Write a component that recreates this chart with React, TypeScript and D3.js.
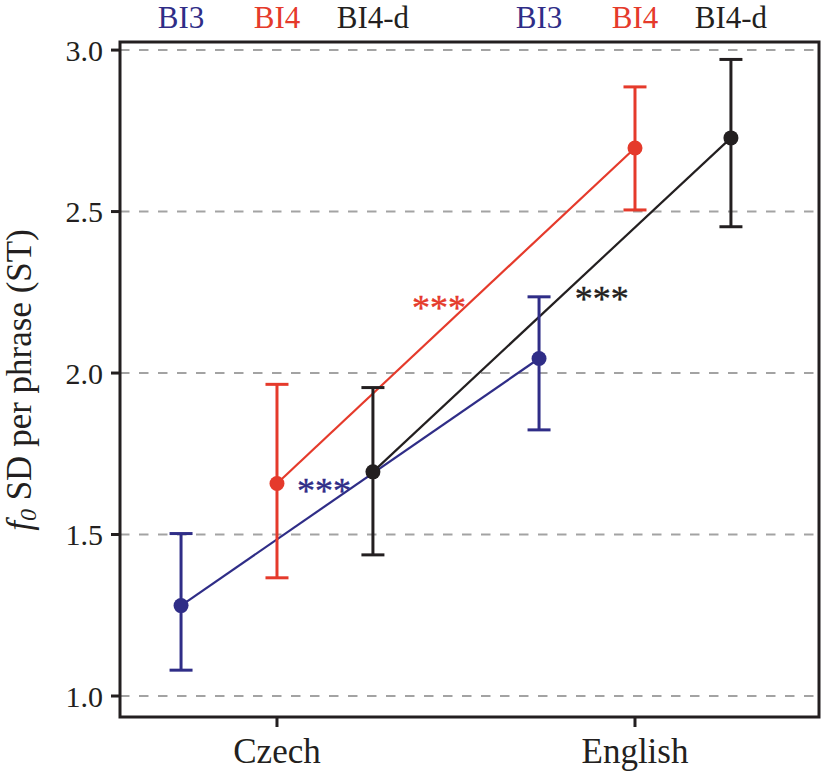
import React from "react";
import * as d3 from "d3";

// categories
const languages = ["Czech", "English"];
const groups = ["BI3", "BI4", "BI4-d"];

// mean f0 SD per phrase, one value per language
const meanBI3 = [1.28, 2.045];
const meanBI4 = [1.658, 2.697];
const meanBI4d = [1.694, 2.728];

// error bar ends
const lowBI3 = [1.08, 1.824];
const highBI3 = [1.503, 2.236];
const lowBI4 = [1.366, 2.505];
const highBI4 = [1.965, 2.886];
const lowBI4d = [1.437, 2.453];
const highBI4d = [1.955, 2.971];

const yTicks = [1.0, 1.5, 2.0, 2.5, 3.0];

// significance marks: x in language units, y in data units
const starLabels = ["***", "***", "***"];
const starX = [1.056, 1.377, 1.832];
const starY = [1.653, 2.22, 2.248];
const starColor = ["#2f2d87", "#e53a2b", "#231f20"];

const colors = { BI3: "#2f2d87", BI4: "#e53a2b", "BI4-d": "#231f20" };
const dodge = { BI3: -0.268, BI4: 0, "BI4-d": 0.268 };

const series = [
  { key: "BI3", mean: meanBI3, low: lowBI3, high: highBI3 },
  { key: "BI4", mean: meanBI4, low: lowBI4, high: highBI4 },
  { key: "BI4-d", mean: meanBI4d, low: lowBI4d, high: highBI4d },
];

const W = 827;
const H = 779;
const left = 120;
const right = 819;
const top = 42;
const bottom = 717;
const font = "'Liberation Serif', 'Times New Roman', serif";

export default function App() {
  const x = d3.scaleLinear().domain([0.5615, 2.514]).range([left, right]);
  const y = d3.scaleLinear().domain([0.935, 3.025]).range([bottom, top]);

  return (
    <svg
      width={W}
      height={H}
      style={{ position: "absolute", left: 0, top: 0, background: "#fff" }}
      fontFamily={font}
    >
      {/* grid */}
      {yTicks.map((t) => (
        <line
          key={"g" + t}
          x1={left}
          x2={right}
          y1={y(t)}
          y2={y(t)}
          stroke="#a3a3a3"
          strokeWidth={2}
          strokeDasharray="9.5,9.5"
        />
      ))}

      {/* connecting lines */}
      {series.map((s) => (
        <path
          key={"l" + s.key}
          d={
            d3
              .line<number>()
              .x((_, i) => x(i + 1 + dodge[s.key]))
              .y((d) => y(d))(s.mean) || ""
          }
          fill="none"
          stroke={colors[s.key]}
          strokeWidth={2.2}
        />
      ))}

      {/* error bars and points */}
      {series.map((s) =>
        languages.map((lang, i) => {
          const cx = x(i + 1 + dodge[s.key]);
          const c = colors[s.key];
          return (
            <g key={s.key + lang}>
              <line x1={cx} x2={cx} y1={y(s.low[i])} y2={y(s.high[i])} stroke={c} strokeWidth={3} />
              <line x1={cx - 11.5} x2={cx + 11.5} y1={y(s.low[i])} y2={y(s.low[i])} stroke={c} strokeWidth={3} />
              <line x1={cx - 11.5} x2={cx + 11.5} y1={y(s.high[i])} y2={y(s.high[i])} stroke={c} strokeWidth={3} />
              <circle cx={cx} cy={y(s.mean[i])} r={7.5} fill={c} />
            </g>
          );
        })
      )}

      {/* significance stars */}
      {starLabels.map((s, i) => (
        <text
          key={"s" + i}
          x={x(starX[i])}
          y={y(starY[i]) + 18}
          fontSize={36}
          fill={starColor[i]}
          stroke={starColor[i]}
          strokeWidth={0.4}
        >
          {s}
        </text>
      ))}

      {/* frame */}
      <rect
        x={left}
        y={top}
        width={right - left}
        height={bottom - top}
        fill="none"
        stroke="#231f20"
        strokeWidth={3}
      />

      {/* y axis ticks */}
      {yTicks.map((t) => (
        <g key={"t" + t}>
          <line x1={left - 9} x2={left} y1={y(t)} y2={y(t)} stroke="#231f20" strokeWidth={3} />
          <text
            x={left - 17}
            y={y(t)}
            dy="0.35em"
            textAnchor="end"
            fontSize={30}
            fill="#231f20"
          >
            {d3.format(".1f")(t)}
          </text>
        </g>
      ))}

      {/* x axis ticks */}
      {languages.map((lang, i) => (
        <g key={"x" + lang}>
          <line x1={x(i + 1)} x2={x(i + 1)} y1={bottom} y2={bottom + 10} stroke="#231f20" strokeWidth={3} />
          <text x={x(i + 1)} y={763} textAnchor="middle" fontSize={35} fill="#231f20">
            {lang}
          </text>
        </g>
      ))}

      {/* group labels on top */}
      {languages.map((lang, i) =>
        groups.map((g) => (
          <text
            key={"h" + lang + g}
            x={x(i + 1 + dodge[g])}
            y={28}
            textAnchor="middle"
            fontSize={31}
            fill={colors[g]}
          >
            {g}
          </text>
        ))
      )}

      {/* y axis title */}
      <text
        transform="translate(31,380) rotate(-90)"
        textAnchor="middle"
        fontSize={35}
        fill="#231f20"
      >
        <tspan fontStyle="italic">f</tspan>
        <tspan fontStyle="italic" fontSize={24} dy={5}>0</tspan>
        <tspan dy={-5}> SD per phrase (ST)</tspan>
      </text>
    </svg>
  );
}
